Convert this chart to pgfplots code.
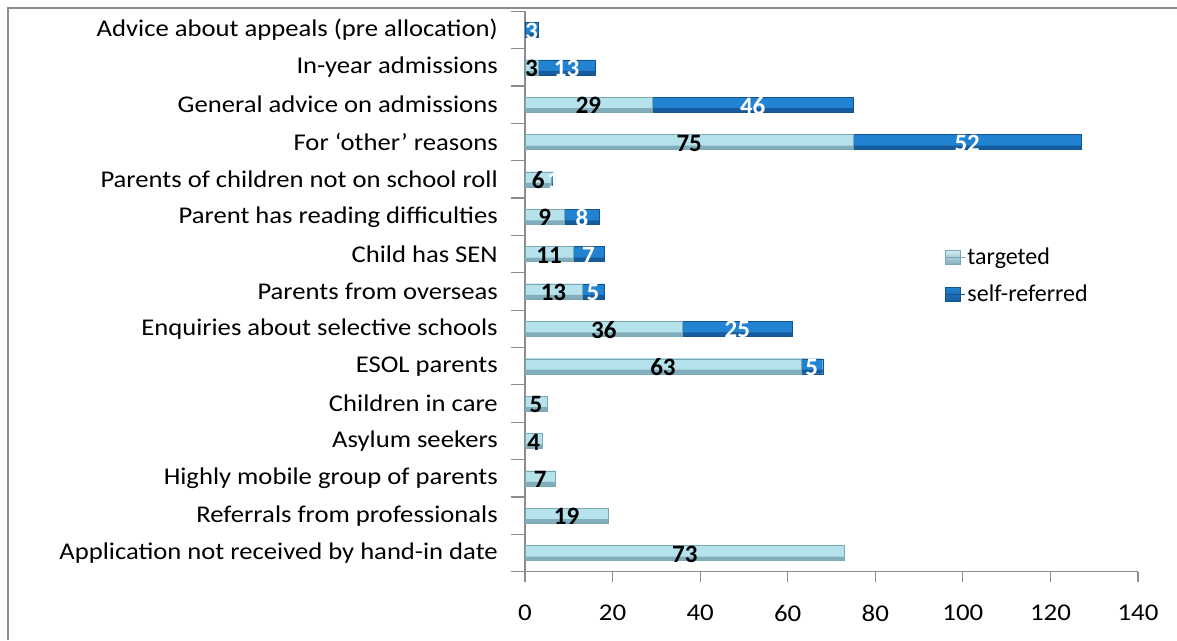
\documentclass[border=0pt]{standalone}
\usepackage{pgfplots}
\pgfplotsset{compat=1.18}
\usepackage{pgfplotstable}
\usepackage{fontspec}
\setmainfont{Carlito}
\definecolor{tMid}{HTML}{B6E2EC}
\definecolor{tBot}{HTML}{82AEBB}
\definecolor{tEdge}{HTML}{79A7B4}
\definecolor{sMid}{HTML}{2283D3}
\definecolor{sBot}{HTML}{165C9C}
\definecolor{sEdge}{HTML}{14548E}
\definecolor{axgray}{HTML}{8C8C8C}
\newcommand\lf{\fontsize{25}{29}\selectfont}
\newcommand\tf{\fontsize{24}{28}\selectfont}
\pgfplotstableread{
idx t s
0 73 0
1 19 0
2 7 0
3 4 0
4 5 0
5 63 5
6 36 25
7 13 5
8 11 7
9 9 8
10 6 1
11 75 52
12 29 46
13 3 13
14 0 3
}\data
\begin{document}
\begin{tikzpicture}
\useasboundingbox (0,0) rectangle (1177pt,640pt);
\draw[axgray, line width=1.5pt] (8pt,0pt) -- (8pt,632pt) -- (1177pt,632pt);
\begin{axis}[
  at={(525pt,68.3pt)}, anchor=south west,
  scale only axis, width=613pt, height=560.4pt,
  xmin=0, xmax=140, ymin=-0.5, ymax=14.5,
  axis x line*=bottom, axis y line*=left,
  axis line style={axgray, line width=1.2pt},
  clip=false,
  /pgf/number format/assume math mode=true,
  xtick={0,20,...,140},
  tick align=outside,
  major tick length=10pt,
  minor tick length=14pt,
  tick style={axgray, line width=1.2pt},
  xticklabel style={font=\tf, xscale=1.12, yshift=-20pt},
  ytick={0,...,14},
  yticklabels={{Application not received by hand-in date},{Referrals from professionals},{Highly mobile group of parents},{Asylum seekers},{Children in care},{ESOL parents},{Enquiries about selective schools},{Parents from overseas},{Child has SEN},{Parent has reading difficulties},{Parents of children not on school roll},{For ‘other’ reasons},{General advice on admissions},{In-year admissions},{Advice about appeals (pre allocation)}},
  yticklabel style={font=\tf, xscale=1.11, xshift=-12pt},
  major y tick style={draw=none},
  minor ytick={-0.5,0.5,...,14.5},
  legend style={at={(0.68,0.585)}, anchor=north west, draw=none, fill=none, font=\tf, row sep=15pt,
    nodes={inner sep=2pt}},
  legend cell align=left,
  legend image code/.code={\path[#1] (0pt,-7pt) rectangle (15pt,7pt); \path (0pt,0pt) -- (20pt,0pt);},
]
% self-referred (drawn as total length, then covered by targeted)
\addplot[xbar, bar width=15pt, bar shift=0pt, forget plot, draw=sEdge, fill=sMid]
  table[x expr=\thisrow{t}+\thisrow{s}, y=idx]{\data};
\addplot[xbar, bar width=4pt, bar shift=-5.5pt, forget plot, draw=none, fill=sBot]
  table[x expr=\thisrow{t}+\thisrow{s}, y=idx]{\data};
% targeted
\addplot[xbar, bar width=15pt, bar shift=0pt, forget plot, draw=tEdge, fill=tMid, restrict x to domain=0.5:500]
  table[x=t, y=idx]{\data};
\addplot[xbar, bar width=4pt, bar shift=-5.5pt, forget plot, draw=none, fill=tBot, restrict x to domain=0.5:500]
  table[x=t, y=idx]{\data};
% value labels
\addplot[draw=none, mark=none, forget plot, nodes near coords, point meta=explicit,
  every node near coord/.style={anchor=center, font=\lf\bfseries, text=black, yshift=-1pt}, restrict x to domain=0.4:500]
  table[x expr=\thisrow{t}/2, y=idx, meta=t]{\data};
\addplot[draw=none, mark=none, forget plot, nodes near coords, point meta=explicit,
  every node near coord/.style={anchor=center, font=\lf\bfseries, text=white, yshift=-1pt},
  restrict expr to domain={\thisrow{s}}{0.5:500}]
  table[x expr=\thisrow{t}+\thisrow{s}/2, y=idx, meta=s]{\data};
\addlegendimage{draw=tEdge, top color=tMid!60!white, bottom color=tBot}
\addlegendentry{targeted}
\addlegendimage{draw=sEdge, top color=sMid, bottom color=sBot}
\addlegendentry{self-referred}
\end{axis}
\end{tikzpicture}
\end{document}
